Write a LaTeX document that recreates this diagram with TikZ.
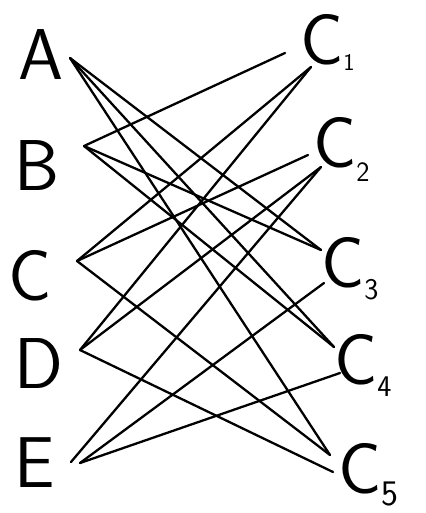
\documentclass[tikz,border=0pt]{standalone}
\usepackage{fontspec}
\usetikzlibrary{positioning}

\begin{document}
\begin{tikzpicture}
    [x=1pt, y=-1pt,
    line cap=round,
    edge/.style={line width=2.3pt},
    letter/.style={inner sep=0pt, anchor=base west, font=\sffamily\fontsize{72}{72}\selectfont},
    port/.style={inner sep=0pt}]
        \useasboundingbox (0,0) rectangle (425,513);
        %% left side
        \node[letter] (LA) at (18,80) {A};
        \node[letter] (LB) at (14,190) {B};
        \node[letter] (LC) at (8,300) {C};
        \node[letter] (LD) at (14,388) {D};
        \node[letter] (LE) at (14,487) {E};
        \coordinate (A) at (70,58);
        \coordinate (B) at (84,146);
        \coordinate (C) at (77,261);
        \coordinate (D) at (80,350);
        \coordinate (E) at (80,463);
        \coordinate (E2) at (71,462);
        %% right side
        \node[letter] (L1) at (300,65) {C\raisebox{-6pt}{\fontsize{24}{24}\selectfont 1}};
        \node[letter] (L2) at (313,167) {C\raisebox{-14pt}{\fontsize{28}{28}\selectfont 2}};
        \node[letter] (L3) at (321,287) {C\raisebox{-12pt}{\fontsize{30}{30}\selectfont 3}};
        \node[letter] (L4) at (334,384) {C\raisebox{-12pt}{\fontsize{30}{30}\selectfont 4}};
        \node[letter] (L5) at (338,493) {C\raisebox{-12pt}{\fontsize{36}{36}\selectfont 5}};
        \coordinate (C1a) at (285,53);
        \coordinate (C1b) at (311,67);
        \coordinate (C2a) at (308,155);
        \coordinate (C2b) at (321,167);
        \coordinate (C3a) at (321,250);
        \coordinate (C3b) at (324,283);
        \coordinate (C4a) at (334,347);
        \coordinate (C4b) at (340,373);
        \coordinate (C5a) at (330,455);
        \coordinate (C5b) at (333,472);

        \draw[edge] (A) to (C3a);
        \draw[edge] (A) to (C4a);
        \draw[edge] (A) to (C5a);
        \draw[edge] (B) to (C1a);
        \draw[edge] (B) to (C3a);
        \draw[edge] (B) to (C4a);
        \draw[edge] (C) to (C1b);
        \draw[edge] (C) to (C2a);
        \draw[edge] (C) to (C5a);
        \draw[edge] (D) to (C1b);
        \draw[edge] (D) to (C2b);
        \draw[edge] (D) to (C5b);
        \draw[edge] (E2) to (C2b);
        \draw[edge] (E) to (C3b);
        \draw[edge] (E) to (C4b);
    \end{tikzpicture}
\end{document}
